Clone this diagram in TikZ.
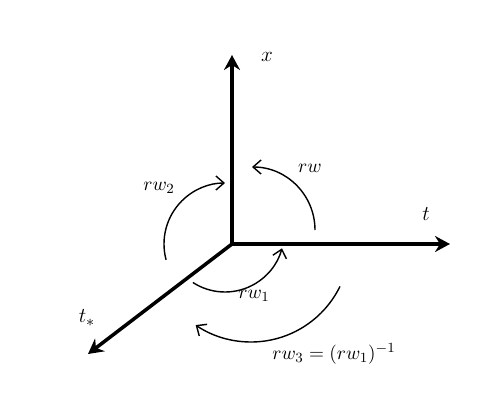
\documentclass[tikz,border=0pt]{standalone}
\usepackage{amsmath}
\usetikzlibrary{arrows.meta, positioning, calc}
\definecolor{mydark}{RGB}{0,0,0}
\tikzset{
  axis/.style={line width=2pt, color=mydark,
    -{Stealth[length=3mm, width=3.2mm, inset=1mm]}},
  turn/.style={line width=0.8pt, color=mydark,
    -{Straight Barb[length=1.6mm, width=2.8mm]}},
  axlabel/.style={font=\fontsize{13}{15}\selectfont},
  arclabel/.style={font=\fontsize{11}{13}\selectfont}
}
\begin{document}
\begin{tikzpicture}[x=0.02cm, y=0.02cm]
  \useasboundingbox (0,0) rectangle (498,407);
  % axes
  \coordinate (O) at (232,163);
  \coordinate (xtip) at (232,352);
  \coordinate (ttip) at (450,163);
  \coordinate (stip) at (88,53);
  \draw[axis] (O) -- (xtip);
  \draw[axis] (O) -- (ttip);
  \draw[axis] (O) -- (stip);
  \node[axlabel] (lx) at (267,350) {$x$};
  \node[axlabel] (lt) at (426,193) {$t$};
  \node[axlabel] (ls) at (87,89) {$t_*$};

  % rotations
  \coordinate (c0) at (252,177);
  \coordinate (c2) at (225,163);
  \coordinate (c1) at (225,174);
  \coordinate (c3) at (251,164);
  \draw[turn] ($(c0)+(0:63)$) arc[start angle=0, end angle=90, radius=63];
  \draw[turn] ($(c2)+(195:61)$) arc[start angle=195, end angle=90, radius=61];
  \draw[turn] ($(c1)+(237:59)$) arc[start angle=237, end angle=345, radius=59];
  \draw[turn] ($(c3)+(334:99)$) arc[start angle=334, end angle=236, radius=99];
  \node[arclabel] (lrw) at (310,239) {$rw$};
  \node[arclabel] (lrw2) at (159,219) {$rw_2$};
  \node[arclabel] (lrw1) at (254,111) {$rw_1$};
  \node[arclabel] (lrw3) at (334,53) {$rw_3 = (rw_1)^{-1}$};
\end{tikzpicture}
\end{document}
